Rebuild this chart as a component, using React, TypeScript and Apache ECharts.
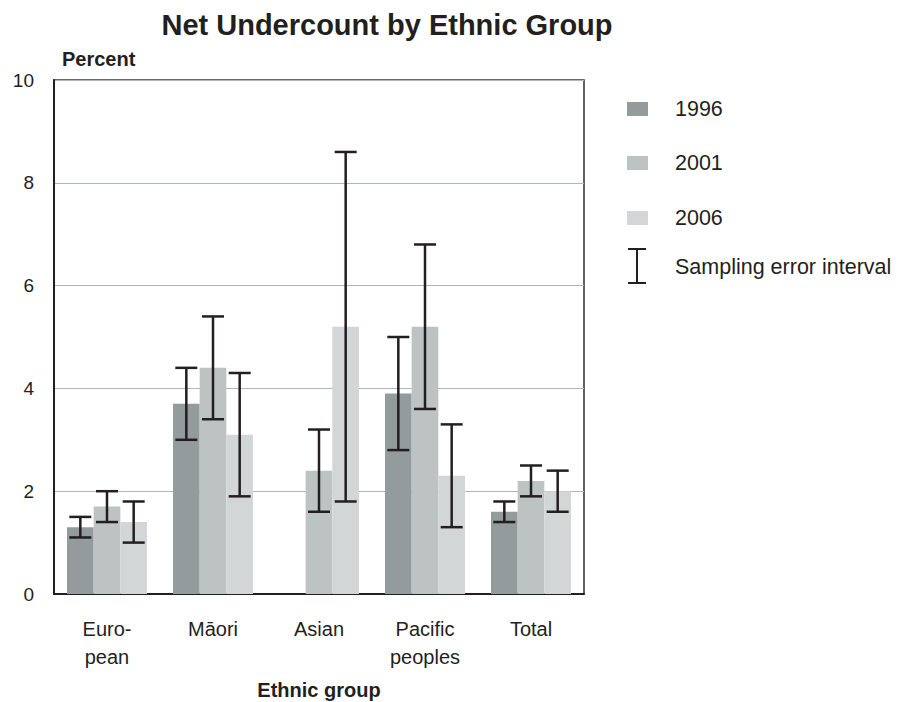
import React, { useEffect, useRef } from "react";
import * as echarts from "echarts";

const categories = ["Euro-\npean", "Māori", "Asian", "Pacific\npeoples", "Total"];
const seriesNames = ["1996", "2001", "2006"];
const values1996: (number | null)[] = [1.3, 3.7, null, 3.9, 1.6];
const values2001: (number | null)[] = [1.7, 4.4, 2.4, 5.2, 2.2];
const values2006: (number | null)[] = [1.4, 3.1, 5.2, 2.3, 2.0];
const low1996: (number | null)[] = [1.1, 3.0, null, 2.8, 1.4];
const high1996: (number | null)[] = [1.5, 4.4, null, 5.0, 1.8];
const low2001: (number | null)[] = [1.4, 3.4, 1.6, 3.6, 1.9];
const high2001: (number | null)[] = [2.0, 5.4, 3.2, 6.8, 2.5];
const low2006: (number | null)[] = [1.0, 1.9, 1.8, 1.3, 1.6];
const high2006: (number | null)[] = [1.8, 4.3, 8.6, 3.3, 2.4];
const yTicks = [0, 2, 4, 6, 8, 10];

const colors = ["#949b9c", "#bdc2c2", "#d2d6d7"];
const FONT = "'Liberation Sans', Arial, Helvetica, sans-serif";
const TXT = "#231f20";
const CAT_GAP = 0.245;

export default function App() {
  const ref = useRef<HTMLDivElement>(null);
  useEffect(() => {
    if (!ref.current) return;
    const chart = echarts.init(ref.current, undefined, { renderer: "svg" });
    const valueSets = [values1996, values2001, values2006];
    const lows = [low1996, low2001, low2006];
    const highs = [high1996, high2001, high2006];
    const errData: number[][] = [];
    for (let s = 0; s < 3; s++) {
      for (let c = 0; c < categories.length; c++) {
        const lo = lows[s][c];
        const hi = highs[s][c];
        if (lo != null && hi != null) errData.push([c, s, lo, hi]);
      }
    }
    const legendCenters = [109, 163, 218];
    chart.setOption({
      animation: false,
      textStyle: { fontFamily: FONT },
      title: [
        {
          text: "Net Undercount by Ethnic Group",
          left: 387,
          textAlign: "center",
          top: 10,
          padding: 0,
          textStyle: { fontFamily: FONT, fontSize: 29, fontWeight: "bold", color: TXT },
        },
        {
          text: "Percent",
          left: 62,
          top: 49,
          padding: 0,
          textStyle: { fontFamily: FONT, fontSize: 20, fontWeight: "bold", color: TXT },
        },
      ],
      legend: seriesNames.map((n, i) => ({
        data: [n],
        orient: "vertical",
        left: 627,
        top: legendCenters[i] - 11,
        padding: 0,
        icon: "rect",
        itemWidth: 21,
        itemHeight: 14,
        itemGap: 0,
        selectedMode: false,
        textStyle: {
          fontFamily: FONT,
          fontSize: 21.5,
          color: TXT,
          lineHeight: 22,
          padding: [0, 0, 0, 22],
        },
      })),
      grid: {
        left: 54,
        right: 317,
        top: 80,
        bottom: 108,
        outerBoundsMode: "none",
        containLabel: false,
        show: true,
        borderColor: "#3a3a3a",
        borderWidth: 1.6,
        backgroundColor: "transparent",
      },
      xAxis: {
        type: "category",
        data: categories,
        name: "Ethnic group",
        nameLocation: "middle",
        nameGap: 85,
        nameTextStyle: { fontFamily: FONT, fontSize: 20, fontWeight: "bold", color: TXT, lineHeight: 22 },
        axisTick: { show: false },
        axisLine: { lineStyle: { color: TXT, width: 2 } },
        axisLabel: { fontFamily: FONT, fontSize: 20, color: TXT, margin: 21, lineHeight: 28 },
      },
      yAxis: {
        type: "value",
        min: yTicks[0],
        max: yTicks[yTicks.length - 1],
        interval: 2,
        axisLine: { show: true, lineStyle: { color: TXT, width: 2 } },
        axisTick: { show: false },
        splitLine: { lineStyle: { color: "#b0b6b6", width: 1 } },
        axisLabel: { fontFamily: FONT, fontSize: 19, color: TXT, margin: 20 },
      },
      series: [
        ...seriesNames.map((n, i) => ({
          name: n,
          type: "bar",
          data: valueSets[i],
          barGap: "0%",
          barCategoryGap: CAT_GAP * 100 + "%",
          itemStyle: { color: colors[i] },
          emphasis: { disabled: true },
        })),
        {
          name: "Sampling error interval",
          type: "custom",
          data: errData,
          encode: { x: 0, y: [2, 3] },
          z: 10,
          renderItem: (params: any, api: any) => {
            const c = api.value(0);
            const s = api.value(1);
            const lo = api.value(2);
            const hi = api.value(3);
            const pLo = api.coord([c, lo]);
            const pHi = api.coord([c, hi]);
            const band = api.size([1, 0])[0];
            const barW = (band * (1 - CAT_GAP)) / 3;
            const x = pLo[0] + (s - 1) * barW;
            const hw = 11;
            const style = { stroke: TXT, lineWidth: 2.5 };
            return {
              type: "group",
              children: [
                { type: "line", shape: { x1: x, y1: pLo[1], x2: x, y2: pHi[1] }, style },
                { type: "line", shape: { x1: x - hw, y1: pLo[1], x2: x + hw, y2: pLo[1] }, style },
                { type: "line", shape: { x1: x - hw, y1: pHi[1], x2: x + hw, y2: pHi[1] }, style },
              ],
            };
          },
        },
      ],
      graphic: [
        { type: "line", shape: { x1: 637, y1: 248, x2: 637, y2: 284 }, style: { stroke: TXT, lineWidth: 2 } },
        { type: "line", shape: { x1: 628, y1: 249, x2: 646, y2: 249 }, style: { stroke: TXT, lineWidth: 2 } },
        { type: "line", shape: { x1: 628, y1: 283, x2: 646, y2: 283 }, style: { stroke: TXT, lineWidth: 2 } },
        {
          type: "text",
          left: 675,
          top: 256,
          style: { text: "Sampling error interval", fontFamily: FONT, fontSize: 21.5, fill: TXT, lineHeight: 22 },
        },
      ],
    });
    return () => chart.dispose();
  }, []);
  return (
    <div
      ref={ref}
      style={{ position: "fixed", left: 0, top: 0, width: 901, height: 702, background: "#fff" }}
    />
  );
}
